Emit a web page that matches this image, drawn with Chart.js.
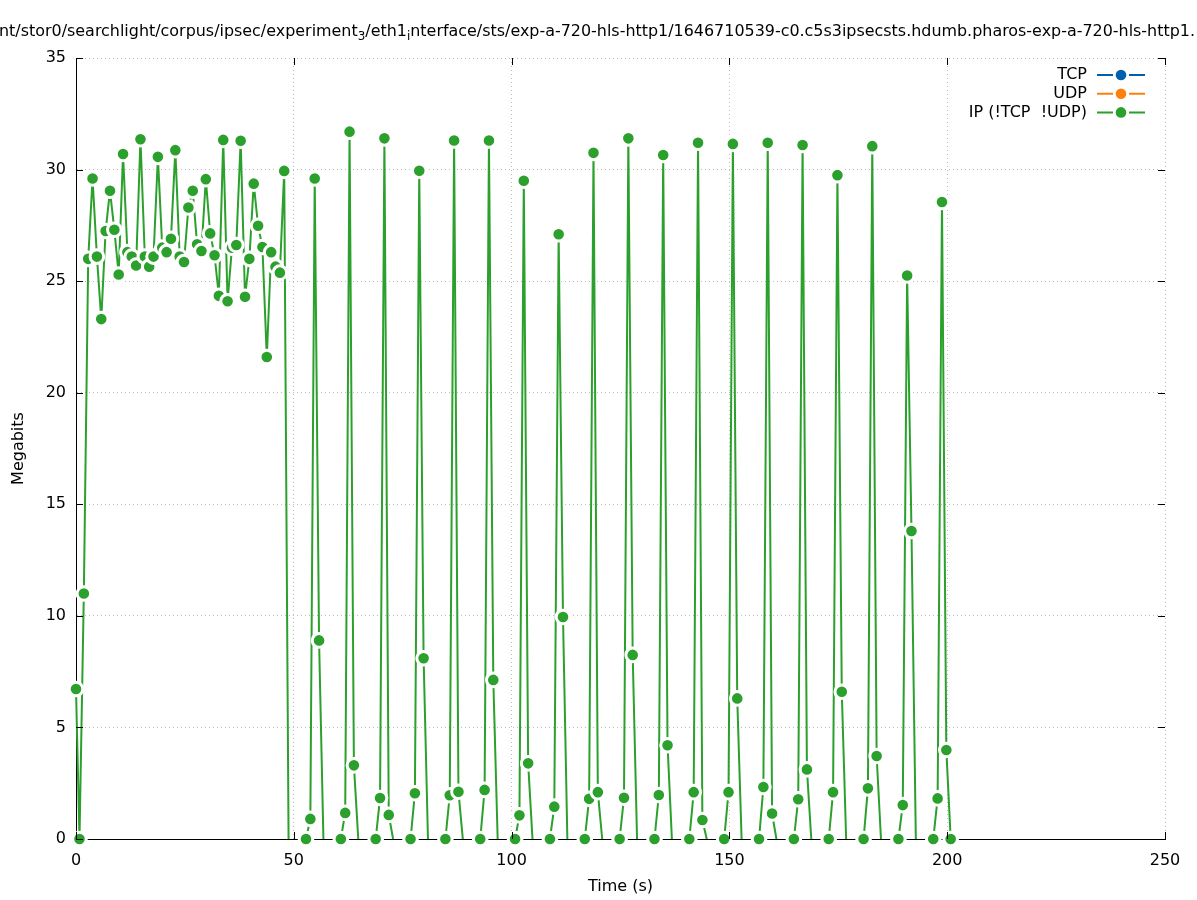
<!DOCTYPE html>
<html lang="en">
<head>
<meta charset="UTF-8">
<title>IP throughput</title>
<script src="https://cdn.jsdelivr.net/npm/chart.js"></script>
<style>
  html, body { margin: 0; padding: 0; background: #fff; }
  #wrap { width: 1197px; height: 900px; position: relative; }
</style>
</head>
<body>
<div id="wrap"><canvas id="chart"></canvas></div>
<script>
// sample times (s); null rows in ipMbits break the line between bursts
const timeS = [
  0, 0.8, 1.8, 2.8, 3.8, 4.8, 5.8, 6.8, 7.8, 8.8, 9.8,
  10.8, 11.8, 12.8, 13.8, 14.8, 15.8, 16.8, 17.8, 18.8, 19.8,
  20.8, 21.8, 22.8, 23.8, 24.8, 25.8, 26.8, 27.8, 28.8, 29.8,
  30.8, 31.8, 32.8, 33.8, 34.8, 35.8, 36.8, 37.8, 38.8, 39.8,
  40.8, 41.8, 42.8, 43.8, 44.8, 45.8, 46.8, 47.8, 48.8, 50.8,
  52.8, 53.8, 54.8, 55.8, 56.8, 58.8,
  60.8, 61.8, 62.8, 63.8, 64.8, 66.8,
  68.8, 69.8, 70.8, 71.8, 72.8, 74.8,
  76.8, 77.8, 78.8, 79.8, 80.8, 82.8,
  84.8, 85.8, 86.8, 87.8, 88.8, 90.8,
  92.8, 93.8, 94.8, 95.8, 96.8, 98.8,
  100.8, 101.8, 102.8, 103.8, 104.8, 106.8,
  108.8, 109.8, 110.8, 111.8, 112.8, 114.8,
  116.8, 117.8, 118.8, 119.8, 120.8, 122.8,
  124.8, 125.8, 126.8, 127.8, 128.8, 130.8,
  132.8, 133.8, 134.8, 135.8, 136.8, 138.8,
  140.8, 141.8, 142.8, 143.8, 144.8, 146.8,
  148.8, 149.8, 150.8, 151.8, 152.8, 154.8,
  156.8, 157.8, 158.8, 159.8, 160.8, 162.8,
  164.8, 165.8, 166.8, 167.8, 168.8, 170.8,
  172.8, 173.8, 174.8, 175.8, 176.8, 178.8,
  180.8, 181.8, 182.8, 183.8, 184.8, 186.8,
  188.8, 189.8, 190.8, 191.8, 192.8, 194.8,
  196.8, 197.8, 198.8, 199.8, 200.8
];
const ipMbits = [
  6.72, 0, 11.0, 26.0, 29.6, 26.1, 23.3, 27.25, 29.05, 27.3, 25.3,
  30.7, 26.3, 26.1, 25.7, 31.36, 26.1, 25.65, 26.1, 30.57, 26.5,
  26.3, 26.9, 30.87, 26.1, 25.86, 28.3, 29.05, 26.65, 26.35, 29.57,
  27.14, 26.16, 24.34, 31.33, 24.1, 26.5, 26.62, 31.29, 24.3, 26.0,
  29.37, 27.48, 26.53, 21.6, 26.3, 25.65, 25.38, 29.94, 0, null,
  0, 0.9, 29.6, 8.9, 0, null,
  0, 1.17, 31.7, 3.3, 0, null,
  0, 1.84, 31.4, 1.08, 0, null,
  0, 2.05, 29.95, 8.1, 0, null,
  0, 1.96, 31.3, 2.12, 0, null,
  0, 2.2, 31.3, 7.13, 0, null,
  0, 1.06, 29.5, 3.39, 0, null,
  0, 1.45, 27.1, 9.95, 0, null,
  0, 1.8, 30.75, 2.1, 0, null,
  0, 1.85, 31.4, 8.25, 0, null,
  0, 1.97, 30.65, 4.2, 0, null,
  0, 2.1, 31.2, 0.85, 0, null,
  0, 2.1, 31.15, 6.3, 0, null,
  0, 2.33, 31.2, 1.14, 0, null,
  0, 1.78, 31.1, 3.12, 0, null,
  0, 2.1, 29.75, 6.6, 0, null,
  0, 2.27, 31.05, 3.72, 0, null,
  0, 1.52, 25.25, 13.8, 0, null,
  0, 1.82, 28.55, 3.99, 0
];
// TCP / UDP stay at zero for the whole capture (only shown in the key)
const tcpMbits = [];
const udpMbits = [];

const xTicks = [0, 50, 100, 150, 200, 250];
const yTicks = [0, 5, 10, 15, 20, 25, 30, 35];

const FONT = 'DejaVu Sans';
const titleParts = [
  ['nt/stor0/searchlight/corpus/ipsec/experiment', false],
  ['3', true],
  ['/eth1', false],
  ['i', true],
  ['nterface/sts/exp-a-720-hls-http1/1646710539-c0.c5s3ipsecsts.hdumb.pharos-exp-a-720-hls-http1.', false]
];

const ipPoints = timeS.map((t, i) => ({ x: t, y: ipMbits[i] }));

// no marker on the zero that closes each burst
function markerRadius(ctx) {
  const i = ctx.dataIndex;
  if (ipMbits[i] === 0 && i < ipMbits.length - 1 && ipMbits[i + 1] === null) return 0;
  return 6.8;
}

const gnuplotDecor = {
  id: 'gnuplotDecor',
  afterDraw(chart) {
    const ctx = chart.ctx;
    const { left, right, top, bottom } = chart.chartArea;
    const xs = chart.scales.x, ys = chart.scales.y;
    ctx.save();

    // inward tics on all four sides
    ctx.strokeStyle = '#000';
    ctx.lineWidth = 1;
    ctx.beginPath();
    xTicks.forEach(v => {
      const px = Math.round(xs.getPixelForValue(v)) + 0.5;
      ctx.moveTo(px, bottom); ctx.lineTo(px, bottom - 7);
      ctx.moveTo(px, top); ctx.lineTo(px, top + 7);
    });
    yTicks.forEach(v => {
      const py = Math.round(ys.getPixelForValue(v)) + 0.5;
      ctx.moveTo(left, py); ctx.lineTo(left + 7, py);
      ctx.moveTo(right, py); ctx.lineTo(right - 7, py);
    });
    ctx.stroke();

    // key, top right
    ctx.font = '16px "' + FONT + '"';
    ctx.textAlign = 'right';
    ctx.textBaseline = 'middle';
    chart.data.datasets.forEach((ds, i) => {
      const y = 75 + i * 18.7;
      ctx.fillStyle = '#000';
      ctx.fillText(ds.label, 1087, y);
      ctx.strokeStyle = ds.borderColor;
      ctx.lineWidth = 2;
      ctx.beginPath();
      ctx.moveTo(1097, y); ctx.lineTo(1113, y);
      ctx.moveTo(1129, y); ctx.lineTo(1145, y);
      ctx.stroke();
      ctx.fillStyle = ds.borderColor;
      ctx.beginPath();
      ctx.arc(1121, y, 5.3, 0, Math.PI * 2);
      ctx.fill();
    });

    // title (clipped on both sides like the original); squeeze to the visible span
    ctx.textAlign = 'left';
    ctx.textBaseline = 'alphabetic';
    ctx.fillStyle = '#000';
    let w = 0;
    titleParts.forEach(([txt, sub]) => {
      ctx.font = (sub ? '12px "' : '16px "') + FONT + '"';
      w += ctx.measureText(txt).width;
    });
    const k = Math.min(1, 1196 / w);
    ctx.translate(-1, 0);
    ctx.scale(k, 1);
    let x = 0;
    titleParts.forEach(([txt, sub]) => {
      ctx.font = (sub ? '12px "' : '16px "') + FONT + '"';
      ctx.fillText(txt, x, sub ? 40 : 36);
      x += ctx.measureText(txt).width;
    });
    ctx.restore();
  }
};

new Chart(document.getElementById('chart'), {
  type: 'line',
  data: {
    datasets: [
      { label: 'TCP', data: tcpMbits, borderColor: '#0060ad', backgroundColor: '#0060ad' },
      { label: 'UDP', data: udpMbits, borderColor: '#ff7f0e', backgroundColor: '#ff7f0e' },
      {
        label: 'IP (!TCP  !UDP)',
        data: ipPoints,
        borderColor: '#2ca02c',
        backgroundColor: '#2ca02c',
        borderWidth: 2,
        tension: 0,
        spanGaps: false,
        clip: false,
        pointRadius: markerRadius,
        pointBackgroundColor: '#2ca02c',
        pointBorderColor: '#ffffff',
        pointBorderWidth: 3
      }
    ]
  },
  options: {
    responsive: true,
    maintainAspectRatio: false,
    animation: false,
    events: [],
    layout: { padding: { top: 58, right: 32, left: 0, bottom: 0 } },
    plugins: {
      legend: { display: false },
      title: { display: false },
      tooltip: { enabled: false }
    },
    scales: {
      x: {
        type: 'linear',
        min: 0,
        max: 250,
        afterFit: s => { s.height = 61; },
        afterBuildTicks: s => { s.ticks = xTicks.map(v => ({ value: v })); },
        ticks: { color: '#000', font: { family: FONT, size: 16 }, padding: 12, maxRotation: 0 },
        grid: { color: '#bdbdbd', lineWidth: 1, drawTicks: false },
        border: { color: '#000', width: 1, dash: [1, 3] },
        title: { display: true, text: 'Time (s)', color: '#000', font: { family: FONT, size: 16 }, padding: { top: 0, bottom: 4 } }
      },
      y: {
        min: 0,
        max: 35,
        afterFit: s => { s.width = 76; },
        afterBuildTicks: s => { s.ticks = yTicks.map(v => ({ value: v })); },
        ticks: { color: '#000', font: { family: FONT, size: 16 }, padding: 10 },
        grid: { color: '#bdbdbd', lineWidth: 1, drawTicks: false },
        border: { color: '#000', width: 1, dash: [1, 3] },
        title: { display: true, text: 'Megabits', color: '#000', font: { family: FONT, size: 16 }, padding: { top: 9, bottom: 0 } }
      }
    }
  },
  plugins: [gnuplotDecor]
});
</script>
</body>
</html>
